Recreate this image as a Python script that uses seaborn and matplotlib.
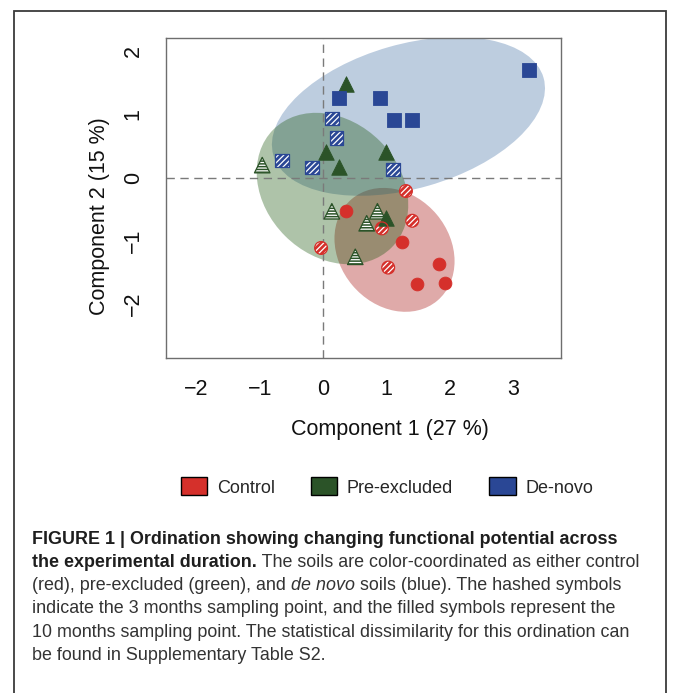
import numpy as np
import pandas as pd
import matplotlib
matplotlib.use("Agg")  # headless
import matplotlib.pyplot as plt
from matplotlib.patches import Ellipse, Patch, Rectangle
import seaborn as sns

groups = ["Control", "Pre-excluded", "De-novo"]
group_colors = ["#d5302b", "#2b5328", "#2a4795"]

# hashed symbols = 3 months, filled symbols = 10 months
control_3m_x = [1.31, 1.41, 0.93, -0.03, 1.03]
control_3m_y = [-0.21, -0.68, -0.80, -1.11, -1.42]
control_10m_x = [0.37, 1.25, 1.84, 1.49, 1.93]
control_10m_y = [-0.52, -1.02, -1.36, -1.68, -1.67]

pre_3m_x = [-0.96, 0.14, 0.86, 0.69, 0.51]
pre_3m_y = [0.20, -0.53, -0.53, -0.72, -1.25]
pre_10m_x = [0.37, 0.05, 0.99, 0.25, 0.99]
pre_10m_y = [1.49, 0.41, 0.41, 0.17, -0.63]

denovo_3m_x = [0.14, 0.21, -0.65, -0.17, 1.11]
denovo_3m_y = [0.94, 0.63, 0.27, 0.16, 0.13]
denovo_10m_x = [3.26, 0.25, 0.90, 1.12, 1.41]
denovo_10m_y = [1.71, 1.26, 1.26, 0.91, 0.91]

# group ellipses (centre, full width/height, rotation in degrees)
ellipse_cx = [1.13, 0.15, 1.35]
ellipse_cy = [-1.14, -0.17, 0.97]
ellipse_w = [2.10, 2.64, 4.44]
ellipse_h = [1.74, 2.12, 2.28]
ellipse_angle = [-50, -45, 16]
ellipse_fill = ["#a40c0a", "#18540a", "#4270a6"]

x_ticks = [-2, -1, 0, 1, 2, 3]
y_ticks = [-2, -1, 0, 1, 2]
x_label = "Component 1 (27 %)"
y_label = "Component 2 (15 %)"

caption_lines = [
    [("FIGURE 1 | Ordination showing changing functional potential across", "bold", "normal")],
    [("the experimental duration.", "bold", "normal"),
     (" The soils are color-coordinated as either control", "normal", "normal")],
    [("(red), pre-excluded (green), and", "normal", "normal"),
     (" de novo", "normal", "italic"),
     (" soils (blue). The hashed symbols", "normal", "normal")],
    [("indicate the 3 months sampling point, and the filled symbols represent the", "normal", "normal")],
    [("10 months sampling point. The statistical dissimilarity for this ordination can", "normal", "normal")],
    [("be found in Supplementary Table S2.", "normal", "normal")],
]

# ── Style ──────────────────────────────────────────────────────────────────
sns.set_theme(style="white")
plt.rcParams["font.family"] = ["Liberation Sans", "DejaVu Sans"]
plt.rcParams["hatch.linewidth"] = 0.9

FIG_W, FIG_H, DPI = 673, 693, 100
fig = plt.figure(figsize=(FIG_W / DPI, FIG_H / DPI), dpi=DPI)
fig.patch.set_facecolor("white")

# axes box in pixels: left 166, right 561, top 38, bottom 358
ax = fig.add_axes([166 / FIG_W, 1 - 358 / FIG_H, 395 / FIG_W, 320 / FIG_H])

# ── Ellipses (red, blue, then green on top) ────────────────────────────────
for i in [0, 2, 1]:
    ax.add_patch(Ellipse((ellipse_cx[i], ellipse_cy[i]), ellipse_w[i], ellipse_h[i],
                         angle=ellipse_angle[i], facecolor=ellipse_fill[i],
                         edgecolor="none", alpha=0.35, zorder=1))

ax.axhline(0, color="#7a7a7a", lw=1.0, ls=(0, (6, 4)), zorder=2)
ax.axvline(0, color="#7a7a7a", lw=1.0, ls=(0, (6, 4)), zorder=2)


def draw_points(x, y, marker, size, color, hatch=None):
    """Filled symbol, or a hashed symbol drawn as hatch layer + outline."""
    if hatch is None:
        sns.scatterplot(x=x, y=y, marker=marker, s=size, color=color,
                        edgecolor=color, linewidth=0.6, ax=ax, zorder=5)
    else:
        sns.scatterplot(x=x, y=y, marker=marker, s=size, color=color,
                        edgecolor="white", hatch=hatch, linewidth=0, ax=ax, zorder=5)
        sns.scatterplot(x=x, y=y, marker=marker, s=size, facecolor="none",
                        edgecolor=color, linewidth=0.9, ax=ax, zorder=6)


draw_points(control_3m_x, control_3m_y, "o", 85, group_colors[0], hatch="//////")
draw_points(control_10m_x, control_10m_y, "o", 85, group_colors[0])
draw_points(pre_3m_x, pre_3m_y, "^", 125, group_colors[1], hatch="------")
draw_points(pre_10m_x, pre_10m_y, "^", 125, group_colors[1])
draw_points(denovo_3m_x, denovo_3m_y, "s", 95, group_colors[2], hatch="//////")
draw_points(denovo_10m_x, denovo_10m_y, "s", 95, group_colors[2])

# ── Axes ───────────────────────────────────────────────────────────────────
ax.set_xlim(-2.48, 3.76)
ax.set_ylim(-2.85, 2.21)
ax.set_xticks(x_ticks)
ax.set_yticks(y_ticks)
for s in ax.spines.values():
    s.set_color("#6e6e6e")
    s.set_linewidth(1.0)
ax.tick_params(axis="both", which="major", direction="out", length=7, width=1.0,
               color="#6e6e6e", labelsize=15.5, labelcolor="#111111")
ax.tick_params(axis="x", pad=8)
ax.tick_params(axis="y", pad=9, labelrotation=90)
for lab in ax.get_yticklabels():
    lab.set_va("center")

ax.set_xlabel(x_label, fontsize=15.5, color="#111111")
ax.set_ylabel(y_label, fontsize=15.5, color="#111111")
ax.xaxis.set_label_coords((390 - 166) / 395, (358 - 430) / 320)
ax.xaxis.label.set_va("center")
ax.yaxis.set_label_coords((99 - 166) / 395, (358 - 216) / 320)
ax.yaxis.label.set_va("center")

# ── Legend ─────────────────────────────────────────────────────────────────
handles = [Patch(facecolor=c, edgecolor="black", linewidth=1.0) for c in group_colors]
fig.legend(handles, groups, loc="center", bbox_to_anchor=(387 / FIG_W, 1 - 487 / FIG_H),
           ncol=3, frameon=False, fontsize=13, handlelength=1.45, handleheight=1.15,
           handletextpad=0.55, columnspacing=2.0)

# ── Caption ────────────────────────────────────────────────────────────────
renderer = fig.canvas.get_renderer()
cap_size = 12.9
y_px = 539
for line in caption_lines:
    x_px = 32
    for txt, weight, style in line:
        t = fig.text(x_px / FIG_W, 1 - y_px / FIG_H, txt, fontsize=cap_size,
                     fontweight=weight, fontstyle=style, va="center", ha="left",
                     color="#1e1e1e" if weight == "bold" else "#333333")
        x_px += t.get_window_extent(renderer=renderer).width
    y_px += 23.3

# outer figure frame (open at the bottom)
fig.add_artist(Rectangle((14 / FIG_W, -0.05), (666 - 14) / FIG_W, 1.05 - 11 / FIG_H,
                         transform=fig.transFigure, fill=False,
                         edgecolor="#3a3a3a", linewidth=1.3))

fig.savefig("out.png", dpi=DPI)
plt.close(fig)
print("saved out.png")
